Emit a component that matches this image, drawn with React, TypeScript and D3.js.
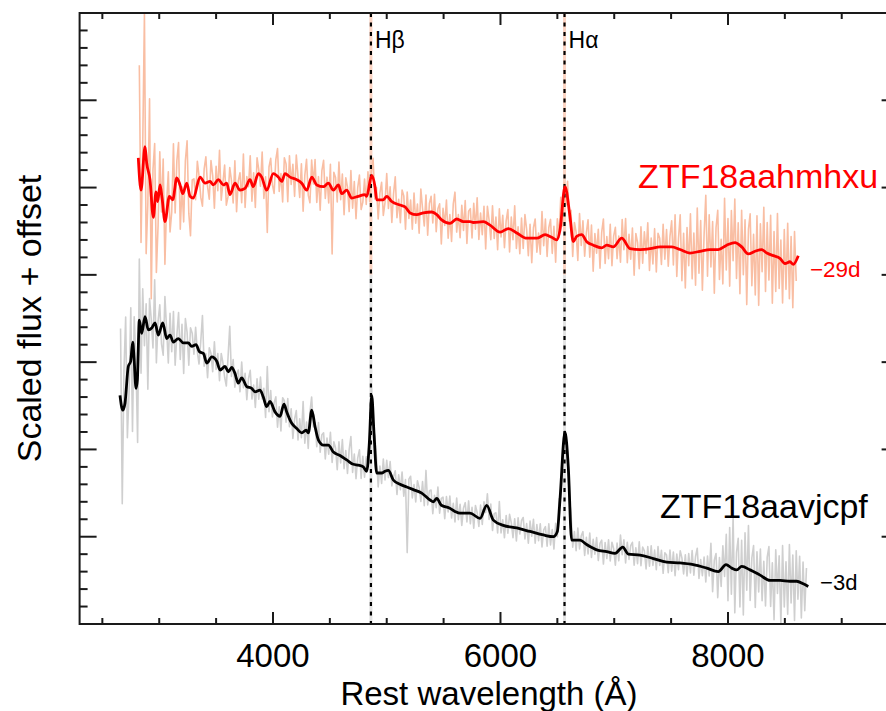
import React from 'react';
import * as d3 from 'd3';

// ---------- data ----------
const redWave = [2816,2840,2875,2890,2919,2948,2972,2987,3007,3025,3051,3089,3119,3154,3183,3207,3242,3271,3300,3359,3403,3447,3476,3520,3564,3593,3622,3666,3710,3754,3798,3827,3871,3901,3945,4003,4047,4077,4106,4150,4209,4253,4297,4341,4385,4443,4487,4531,4575,4604,4648,4692,4750,4809,4824,4868,4897,4912,4970,5000,5044,5117,5161,5205,5264,5322,5396,5440,5483,5556,5615,5673,5732,5761,5849,5908,5996,6069,6143,6231,6319,6392,6450,6494,6523,6567,6611,6640,6670,6714,6758,6816,6890,6934,6992,7066,7139,7227,7315,7403,7505,7578,7666,7754,7842,7915,7989,8062,8121,8179,8238,8297,8341,8399,8457,8501,8545,8574,8618];
const redFlux = [5.34,4.97,5.47,5.28,5.09,4.66,4.95,4.84,5.03,4.88,4.61,4.90,4.86,5.11,5.03,4.93,5.05,4.90,4.88,5.12,5.05,5.07,5.03,5.09,5.03,5.05,4.92,5.05,4.97,4.99,5.09,5.01,5.16,5.12,4.97,5.16,5.12,5.07,5.16,5.12,5.09,5.05,4.97,5.12,5.03,5.01,5.05,4.97,5.03,4.93,4.97,4.88,4.90,4.92,4.90,5.14,5.01,4.86,4.86,4.90,4.84,4.80,4.78,4.71,4.69,4.71,4.72,4.69,4.63,4.59,4.64,4.61,4.61,4.60,4.61,4.57,4.49,4.53,4.48,4.42,4.42,4.46,4.43,4.40,4.51,5.01,4.67,4.38,4.44,4.46,4.38,4.34,4.31,4.34,4.32,4.42,4.30,4.29,4.30,4.32,4.32,4.29,4.25,4.27,4.29,4.29,4.34,4.37,4.32,4.24,4.27,4.29,4.25,4.22,4.19,4.13,4.15,4.12,4.22];

const blackWave = [2655,2679,2699,2728,2749,2767,2779,2796,2808,2825,2846,2875,2904,2934,2963,2992,3031,3066,3095,3124,3168,3212,3256,3286,3324,3353,3388,3418,3462,3506,3535,3578,3608,3637,3666,3695,3725,3769,3813,3842,3886,3915,3945,3974,4018,4062,4097,4121,4165,4209,4253,4291,4311,4341,4370,4399,4443,4487,4531,4589,4648,4706,4750,4794,4824,4847,4868,4888,4912,4956,4985,5014,5058,5117,5176,5234,5308,5381,5410,5440,5480,5550,5600,5644,5732,5820,5879,5937,6025,6143,6260,6377,6465,6500,6523,6567,6596,6626,6655,6699,6758,6846,6934,7007,7075,7124,7227,7344,7461,7578,7695,7813,7915,7983,8033,8077,8121,8194,8282,8370,8457,8545,8604,8662,8706];
const blackFlux = [2.62,2.45,2.53,2.95,3.01,3.23,3.04,2.70,2.80,3.48,3.33,3.52,3.37,3.39,3.45,3.31,3.45,3.27,3.31,3.23,3.27,3.22,3.22,3.18,3.20,3.12,3.10,2.99,3.06,3.01,2.91,2.95,2.89,2.94,2.87,2.76,2.82,2.72,2.70,2.66,2.68,2.60,2.49,2.55,2.43,2.38,2.52,2.43,2.30,2.24,2.19,2.22,2.19,2.45,2.26,2.11,2.05,2.05,1.97,1.93,1.88,1.83,1.82,1.80,1.75,2.07,2.62,2.19,1.73,1.73,1.75,1.76,1.65,1.60,1.57,1.54,1.50,1.42,1.40,1.44,1.36,1.33,1.29,1.27,1.27,1.21,1.36,1.19,1.13,1.10,1.06,1.02,1.00,1.06,1.42,2.20,1.80,0.96,0.96,0.96,0.91,0.85,0.83,0.81,0.88,0.80,0.79,0.75,0.71,0.70,0.68,0.64,0.60,0.68,0.64,0.62,0.66,0.62,0.56,0.50,0.50,0.49,0.49,0.46,0.43];

// residuals of the raw (unsmoothed) spectra around the smoothed ones, every 15 Å
const noiseStep = 15;
const redNoiseStart = 2825;
const redNoise = [
  1.2,-0.6,0.3,1.6,-1.1,-0.4,0.9,-1.2,0.5,0.7,-0.9,-0.3,
  0.4,-0.2,0.55,-0.5,0.1,0.35,-0.4,-0.15,0.6,-0.3,0.2,0.45,-0.5,0.05,-0.35,0.3,0.5,-0.25,-0.45,0.2,
  0.2,-0.1,0.28,0.05,-0.22,-0.3,0.15,0.3,-0.05,-0.2,
  0.25,0.1,-0.28,0.18,-0.12,0.35,-0.2,0.02,0.22,-0.25,
  -0.1,0.3,0.12,-0.18,0.26,-0.3,0.08,0.2,-0.15,0.4,
  -0.22,0.1,-0.05,0.28,-0.2,0.15,-0.3,0.22,0.05,-0.12,
  0.3,-0.18,0.12,-0.5,0.2,0.25,-0.1,-0.22,0.18,0.32,
  -0.15,0.08,-0.26,0.2,0.12,-0.3,0.24,-0.08,0.16,-0.2,
  0.28,0.05,-0.18,0.22,-0.3,0.14,0.35,-0.1,-0.24,0.2,
  -0.05,0.26,-0.2,0.1,-0.28,0.18,0.3,-0.15,0.08,-0.22,
  0.25,-0.75,0.2,0.12,-0.18,0.28,-0.1,0.22,-0.26,0.15,
  0.05,-0.2,0.3,-0.12,0.18,-0.25,0.1,0.24,-0.16,-0.08,
  0.18,-0.1,0.22,-0.2,0.05,0.25,-0.15,0.12,-0.22,0.08,
  0.2,-0.18,-0.05,0.26,-0.12,0.15,-0.24,0.1,0.3,-0.16,
  0.06,-0.2,0.18,0.12,-0.25,0.2,-0.08,0.15,-0.18,0.24,
  -0.1,0.12,-0.22,0.28,0.05,-0.15,0.2,-0.26,0.1,0.18,
  -0.12,0.22,-0.2,0.08,0.16,-0.28,0.14,-0.05,0.25,-0.18,
  0.1,-0.22,0.2,0.32,-0.15,0.06,-0.2,0.18,-0.1,0.24,
  -0.25,0.12,0.15,-0.18,0.22,-0.08,0.28,-0.2,0.1,-0.15,
  0.18,-0.3,0.2,0.05,-0.16,0.24,-0.12,0.14,-0.22,0.26,
  -0.06,0.18,-0.2,0.1,0.22,-0.26,0.15,-0.1,0.3,-0.18,
  0.08,-0.22,0.2,-0.14,0.26,0.1,-0.2,0.16,-0.28,0.12,
  0.22,-0.16,0.05,-0.2,0.28,-0.12,0.18,-0.24,0.1,0.2,
  -0.18,0.14,-0.26,0.22,-0.05,0.3,-0.2,0.12,-0.15,0.24,
  -0.1,0.16,-0.22,0.2,0.06,-0.28,0.25,-0.12,0.18,-0.2,
  0.1,0.26,-0.16,0.22,-0.3,0.14,-0.08,0.2,-0.24,0.18,
  0.32,-0.2,0.1,-0.15,0.25,-0.22,0.12,0.2,-0.18,0.06,
  -0.26,0.22,-0.1,0.28,-0.2,0.15,-0.12,0.24,-0.3,0.18,
  0.08,-0.22,0.26,-0.16,0.2,-0.05,0.3,-0.25,0.12,-0.18,
  0.22,-0.28,0.16,0.1,-0.2,0.26,-0.14,0.2,-0.22,0.12,
  0.3,-0.2,0.38,-0.32,0.12,0.4,-0.35,0.2,-0.42,0.28,
  -0.15,0.45,-0.3,0.22,-0.38,0.5,-0.25,0.35,-0.45,0.18,
  0.63,-0.3,0.4,-0.2,0.32,-0.5,0.25,0.45,-0.35,0.1,
  -0.42,0.55,-0.28,0.3,-0.48,0.38,-0.2,0.5,-0.4,0.25,
  -0.55,0.42,-0.3,0.35,-0.6,0.28,0.45,-0.38,0.2,-0.5,
  0.4,-0.63,0.3,-0.25,0.5,-0.45,0.35,-0.3,0.45,-0.55,
  0.28,-0.4,0.5,-0.35,0.22,-0.48,0.38,-0.3,0.45,-0.42,
  0.3,-0.5,0.35,-0.25
];
const blackNoiseStart = 2660;
const blackNoise = [
  0.8,-1.1,0.4,0.9,-0.7,-0.3,0.6,-1.0,0.5,0.3,-0.8,0.7,-0.5,
  0.45,-0.3,0.2,-0.7,0.35,0.1,-0.25,0.5,-0.4,0.15,0.3,-0.2,-0.35,0.4,0.1,-0.3,0.25,-0.15,0.35,-0.28,0.05,0.3,-0.22,0.2,-0.35,0.28,0.12,-0.25,0.2,
  0.15,-0.1,0.2,-0.05,-0.15,0.12,0.43,-0.12,0.08,-0.18,
  0.14,0.05,-0.16,0.2,-0.1,0.12,-0.14,0.18,0.06,-0.12,
  -0.2,0.16,0.5,-0.1,0.12,-0.16,0.04,0.15,-0.13,0.18,
  -0.08,0.12,-0.15,0.1,0.2,-0.12,0.06,-0.18,0.14,-0.1,
  0.16,-0.05,0.12,-0.16,0.45,-0.1,0.14,-0.12,0.08,0.18,
  -0.15,0.1,-0.2,0.12,0.05,-0.14,0.18,-0.1,0.15,-0.16,
  0.08,0.2,-0.12,0.14,-0.06,0.35,-0.14,0.1,-0.18,0.12,
  0.16,-0.1,0.05,-0.15,0.2,-0.12,0.1,0.14,-0.16,0.08,
  -0.1,0.18,-0.14,0.12,0.06,-0.18,0.15,-0.08,0.2,-0.12,
  0.1,-0.15,0.14,0.3,-0.1,0.12,-0.16,0.08,0.18,-0.14,
  0.12,-0.1,0.16,-0.05,-0.15,0.2,-0.12,0.1,0.14,-0.16,
  0.08,-0.12,0.15,-0.1,
  0.12,-0.08,0.14,-0.1,0.04,0.12,-0.14,0.1,-0.06,0.15,
  -0.12,0.08,-0.75,0.1,0.14,-0.1,0.06,-0.13,0.12,0.05,
  -0.1,0.14,-0.12,0.3,-0.08,0.1,0.12,-0.14,0.06,-0.1,
  0.15,-0.12,0.08,0.1,-0.14,0.12,-0.05,0.14,-0.1,0.08,
  -0.12,0.16,-0.08,0.1,-0.14,0.06,0.12,-0.1,0.14,-0.12,
  0.08,-0.15,0.12,0.05,-0.1,0.14,-0.12,0.1,-0.06,0.15,
  -0.1,0.12,-0.14,0.08,0.1,-0.12,0.25,-0.1,0.06,-0.14,
  0.12,-0.08,0.14,0.05,-0.12,0.1,-0.15,0.12,-0.06,0.1,
  0.14,-0.1,0.08,-0.14,0.12,-0.05,0.15,-0.12,0.1,-0.08,
  0.12,-0.14,0.06,0.1,-0.12,0.14,-0.1,0.08,-0.15,0.12,
  -0.06,0.14,-0.1,0.12,0.05,-0.14,0.1,-0.12,0.15,-0.08,
  0.1,-0.12,0.14,-0.1,0.06,0.12,-0.14,0.08,-0.1,0.15,
  -0.12,0.1,-0.06,0.14,-0.12,0.08,0.12,-0.15,0.1,-0.08,
  0.14,-0.1,0.12,0.05,-0.14,0.1,-0.12,0.16,-0.08,0.1,
  -0.14,0.12,-0.06,0.1,0.14,-0.12,0.08,-0.1,0.15,-0.12,
  0.1,0.06,-0.14,0.12,-0.1,0.14,-0.08,0.1,-0.12,0.15,
  -0.06,0.12,-0.14,0.1,0.08,-0.12,0.14,-0.1,0.12,-0.15,
  0.1,-0.08,0.14,0.06,-0.12,0.1,-0.14,0.12,-0.1,0.16,
  -0.12,0.1,0.2,-0.14,0.08,-0.1,0.12,-0.16,0.14,-0.08,
  0.3,-0.25,0.12,0.2,-0.3,0.15,-0.2,0.25,-0.12,0.35,
  -0.4,0.45,-0.3,0.6,-0.5,0.2,0.35,-0.45,0.3,-0.55,
  0.4,-0.25,0.5,-0.35,0.15,0.3,-0.4,0.25,-0.2,0.3,
  -0.28,0.18,-0.32,0.25,0.38,-0.3,0.2,-0.45,0.35,-0.15,
  0.28,-0.5,0.4,-0.3,0.22,-0.38,0.42,-0.25,0.3,-0.45,
  0.35,-0.2,0.3,-0.4,0.25,-0.3,0.2
];

const xMajorTicks = [4000, 6000, 8000];
const lineWaves = [4861, 6563];
const lineLabels = ['H\u03B2', 'H\u03B1'];
const objectNames = ['ZTF18aahmhxu', 'ZTF18aavjcpf'];
const phaseLabels = ['\u221229d', '\u22123d'];
const xTitle = 'Rest wavelength (\u00C5)';
const yTitle = 'Scaled flux + offset';

const FONT = "'Liberation Sans', Arial, Helvetica, sans-serif";

export default function App() {
  const W = 886, H = 711;
  const x = d3.scaleLinear().domain([2300, 9500]).range([79.6, 898.6]);
  const y = d3.scaleLinear().domain([0, 7]).range([624, 13]);
  const [x0, x1] = x.range();
  const [yb, yt] = y.range();

  const rawLine = d3.line<[number, number]>().x(d => x(d[0])).y(d => y(d[1]));
  const smoothLine = d3.line<[number, number]>().x(d => x(d[0])).y(d => y(d[1])).curve(d3.curveMonotoneX);
  const zip = (w: number[], f: number[]) => w.map((v, i) => [v, f[i]] as [number, number]);
  const interp = (w: number[], f: number[], l: number) => {
    const i = Math.max(1, Math.min(w.length - 1, d3.bisectLeft(w, l)));
    const t = (l - w[i - 1]) / (w[i] - w[i - 1]);
    return f[i - 1] + (f[i] - f[i - 1]) * Math.max(0, Math.min(1, t));
  };
  const noisy = (w: number[], f: number[], start: number, res: number[]) =>
    res.map((r, i) => {
      const l = start + i * noiseStep;
      return [l, interp(w, f, l) + r] as [number, number];
    });

  const redRaw = noisy(redWave, redFlux, redNoiseStart, redNoise);
  const blackRaw = noisy(blackWave, blackFlux, blackNoiseStart, blackNoise);

  const xMinor = d3.range(2500, 9501, 500).filter(v => !xMajorTicks.includes(v));
  const yAll = d3.range(0, 36).map(i => i / 5);
  const yMajor = yAll.filter(v => Math.abs(v - Math.round(v)) < 1e-6);
  const yMinor = yAll.filter(v => Math.abs(v - Math.round(v)) >= 1e-6);

  const axisColor = '#1a1a1a';

  return (
    <svg width={W} height={H} style={{ position: 'absolute', left: 0, top: 0, background: '#fff' }}>
      <defs>
        <clipPath id="plot">
          <rect x={x0} y={yt} width={x1 - x0} height={yb - yt} />
        </clipPath>
      </defs>
      <g clipPath="url(#plot)">
        {lineWaves.map((l, i) => (
          <g key={'m' + i}>
            <line x1={x(l)} x2={x(l)} y1={y(7)} y2={y(4)} stroke="#fbd3c2" strokeWidth={3} />
            <line x1={x(l)} x2={x(l)} y1={y(4)} y2={y(0)} stroke="#e3e3e3" strokeWidth={3} />
          </g>
        ))}
        <path d={rawLine(blackRaw) || ''} fill="none" stroke="#cfcfcf" strokeWidth={1.6} strokeLinejoin="round" />
        <path d={rawLine(redRaw) || ''} fill="none" stroke="#f9bea3" strokeWidth={1.6} strokeLinejoin="round" />
        {lineWaves.map((l, i) => (
          <line key={'d' + i} x1={x(l)} x2={x(l)} y1={yt} y2={yb} stroke="#000" strokeWidth={2.2} strokeDasharray="4,5.5" />
        ))}
        <path d={smoothLine(zip(blackWave, blackFlux)) || ''} fill="none" stroke="#000" strokeWidth={2.8} strokeLinejoin="round" />
        <path d={smoothLine(zip(redWave, redFlux)) || ''} fill="none" stroke="#ff0000" strokeWidth={2.8} strokeLinejoin="round" />
      </g>

      <g stroke={axisColor} strokeWidth={2} fill="none">
        <rect x={x0} y={yt} width={x1 - x0} height={yb - yt} />
        {xMajorTicks.map(v => (
          <g key={'xM' + v}>
            <line x1={x(v)} x2={x(v)} y1={yb} y2={yb - 12} />
            <line x1={x(v)} x2={x(v)} y1={yt} y2={yt + 12} />
          </g>
        ))}
        {xMinor.map(v => (
          <g key={'xm' + v}>
            <line x1={x(v)} x2={x(v)} y1={yb} y2={yb - 6} />
            <line x1={x(v)} x2={x(v)} y1={yt} y2={yt + 6} />
          </g>
        ))}
        {yMajor.map(v => (
          <g key={'yM' + v}>
            <line x1={x0} x2={x0 + 17} y1={y(v)} y2={y(v)} />
            <line x1={x1} x2={x1 - 17} y1={y(v)} y2={y(v)} />
          </g>
        ))}
        {yMinor.map(v => (
          <g key={'ym' + v}>
            <line x1={x0} x2={x0 + 8} y1={y(v)} y2={y(v)} />
            <line x1={x1} x2={x1 - 8} y1={y(v)} y2={y(v)} />
          </g>
        ))}
      </g>

      <g fontFamily={FONT}>
        {xMajorTicks.map(v => (
          <text key={'xl' + v} x={x(v)} y={667} fontSize={33} textAnchor="middle" fill="#000">{v}</text>
        ))}
        <text x={489} y={705} fontSize={33} textAnchor="middle" fill="#000">{xTitle}</text>
        <text transform={`translate(41, ${(yt + yb) / 2}) rotate(-90)`} fontSize={34} textAnchor="middle" fill="#000">{yTitle}</text>

        {lineWaves.map((l, i) => (
          <text key={'ll' + i} x={x(l) + 4} y={48} fontSize={23} fill="#000">{lineLabels[i]}</text>
        ))}

        <text x={x(7210)} y={y(5.0)} fontSize={34} fill="#ff0000">{objectNames[0]}</text>
        <text x={x(7402)} y={y(1.21)} fontSize={34} fill="#000">{objectNames[1]}</text>
        <text x={x(8720)} y={y(3.97)} fontSize={22.5} fill="#ff0000">{phaseLabels[0]}</text>
        <text x={x(8810)} y={y(0.39)} fontSize={22} fill="#000">{phaseLabels[1]}</text>
      </g>
    </svg>
  );
}
